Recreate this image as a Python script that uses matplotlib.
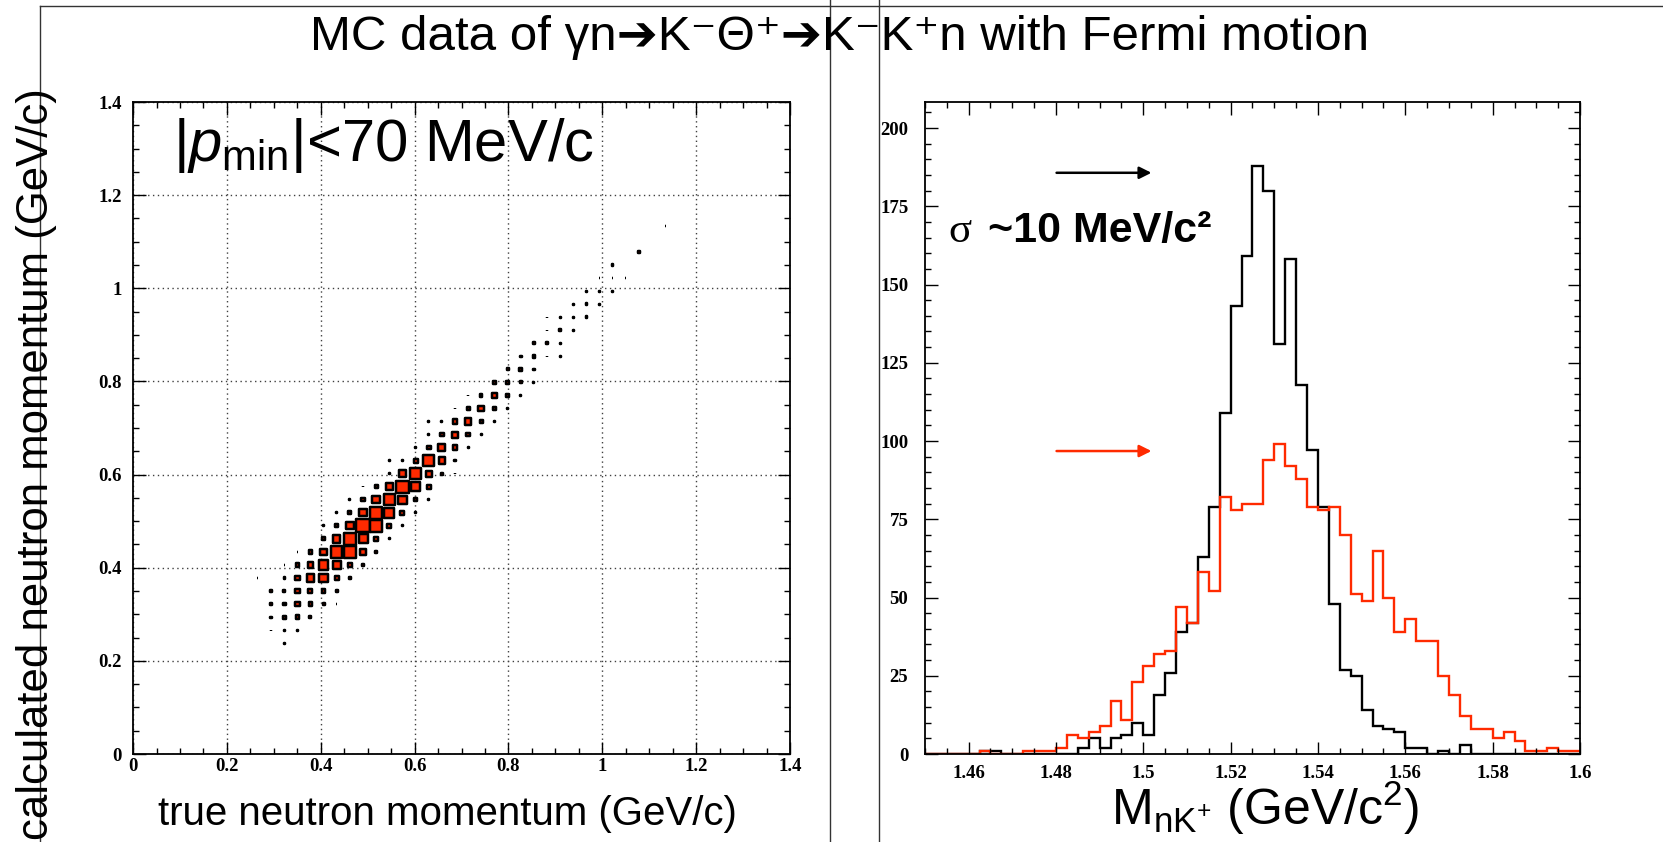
import numpy as np
import matplotlib
matplotlib.use("Agg")
import matplotlib.pyplot as plt
from matplotlib.patches import Rectangle
from matplotlib.collections import PatchCollection
from matplotlib.lines import Line2D
from matplotlib.ticker import MultipleLocator, FormatStrFormatter

plt.rcParams["mathtext.fontset"] = "custom"
plt.rcParams["mathtext.rm"] = "Liberation Sans"
plt.rcParams["mathtext.it"] = "Liberation Sans:italic"
plt.rcParams["mathtext.bf"] = "Liberation Sans:bold"

SANS = ["Liberation Sans", "DejaVu Sans"]
RED = "#ff2a00"

# ---- left panel: 2D box histogram (50 x 50 bins, 0..1.4 GeV/c) ----
p_edges = np.linspace(0.0, 1.4, 51)
cell_ix = [11,
           9, 10, 11, 12,
           9, 10, 11, 12, 13,
           10, 11, 12, 13, 14, 15,
           10, 11, 12, 13, 14, 15,
           9, 10, 11, 12, 13, 14, 15, 16,
           11, 12, 13, 14, 15, 16, 17,
           12, 13, 14, 15, 16, 17, 18,
           14, 15, 16, 17, 18, 19,
           14, 15, 16, 17, 18, 19, 20,
           15, 16, 17, 18, 19, 20, 21,
           16, 17, 18, 19, 20, 21, 22,
           17, 18, 19, 20, 21, 22,
           19, 20, 21, 22, 23, 24,
           19, 20, 21, 22, 23, 24,
           21, 22, 23, 24, 25,
           22, 23, 24, 25, 26,
           22, 23, 24, 25, 26, 27,
           24, 25, 26, 27, 28,
           25, 26, 27, 28, 29,
           27, 28, 29, 30,
           28, 29, 30,
           29, 30, 31, 32,
           30, 31, 32,
           31, 32, 33,
           31, 32, 33, 34,
           33, 34, 35,
           34, 35, 36,
           35, 36, 37,
           36,
           38,
           40]
cell_iy = ([8] + [9] * 4 + [10] * 5 + [11] * 6 + [12] * 6 + [13] * 8 + [14] * 7
           + [15] * 7 + [16] * 6 + [17] * 7 + [18] * 7 + [19] * 7 + [20] * 6
           + [21] * 6 + [22] * 6 + [23] * 5 + [24] * 5 + [25] * 6 + [26] * 5
           + [27] * 5 + [28] * 4 + [29] * 3 + [30] * 4 + [31] * 3 + [32] * 3
           + [33] * 4 + [34] * 3 + [35] * 3 + [36] * 3 + [37] + [38] + [40])
cell_counts = [8,
               7, 8, 8, 8,
               7, 9, 13, 14, 11,
               11, 13, 17, 14, 11, 8,
               11, 12, 18, 16, 14, 10,
               8, 8, 9, 18, 24, 26, 16, 10,
               8, 14, 20, 30, 26, 16, 10,
               8, 14, 22, 34, 34, 20, 11,
               13, 24, 36, 28, 15, 9,
               8, 14, 24, 38, 34, 16, 9,
               8, 14, 24, 36, 30, 16, 8,
               8, 14, 24, 34, 26, 14, 8,
               8, 14, 22, 36, 28, 16,
               8, 22, 34, 20, 11, 7,
               8, 10, 16, 32, 22, 10,
               8, 15, 23, 18, 9,
               8, 15, 21, 15, 8,
               6, 8, 16, 21, 13, 8,
               8, 14, 20, 14, 8,
               6, 12, 18, 12, 6,
               12, 15, 11, 8,
               11, 14, 10,
               10, 12, 8, 8,
               10, 12, 9,
               8, 10, 8,
               8, 8, 8, 10,
               8, 10, 8,
               8, 8, 8,
               6, 6, 6,
               10,
               9,
               7]

# ---- right panel: M(nK+) histograms, 60 bins 1.45..1.60 ----
m_edges = np.linspace(1.45, 1.60, 61)
counts_all = [0, 0, 0, 0, 0, 1, 1, 0, 0, 0,
              0, 0, 0, 0, 2, 5, 2, 5, 6, 10,
              6, 19, 26, 39, 42, 63, 79, 109, 143, 159,
              188, 180, 131, 158, 118, 97, 79, 48, 27, 25,
              14, 9, 8, 7, 2, 2, 0, 1, 0, 3,
              0, 0, 0, 0, 0, 0, 0, 0, 0, 0]
counts_fermi = [0, 0, 0, 0, 0, 1, 0, 0, 0, 1,
                1, 1, 2, 6, 5, 7, 9, 17, 11, 23,
                28, 32, 33, 47, 42, 58, 52, 82, 78, 80,
                80, 94, 99, 92, 88, 79, 78, 79, 70, 51,
                49, 65, 50, 39, 43, 36, 36, 25, 19, 12,
                8, 8, 5, 7, 4, 1, 1, 2, 1, 1]

fig = plt.figure(figsize=(16.63, 8.42), dpi=100)
ax1 = fig.add_axes([0.0800, 0.1045, 0.3951, 0.7743])
ax2 = fig.add_axes([0.5562, 0.1045, 0.3939, 0.7743])

# boxes (side proportional to content, like ROOT "box")
centres = 0.5 * (p_edges[:-1] + p_edges[1:])
width = p_edges[1] - p_edges[0]
edge_px = 2.5
px_per_unit = 0.3951 * 1663 / 1.4
boxes = []
for ix, iy, n in zip(cell_ix, cell_iy, cell_counts):
    side = max(n / 32 * width - edge_px / px_per_unit, 0.0015)
    boxes.append(Rectangle((centres[ix] - side / 2, centres[iy] - side / 2), side, side))
ax1.add_collection(PatchCollection(boxes, facecolor=RED, edgecolor="black",
                                   linewidth=edge_px * 0.72, zorder=3))
ax1.set_xlim(0, 1.4)
ax1.set_ylim(0, 1.4)
ax1.xaxis.set_major_locator(MultipleLocator(0.2))
ax1.yaxis.set_major_locator(MultipleLocator(0.2))
ax1.xaxis.set_minor_locator(MultipleLocator(0.05))
ax1.yaxis.set_minor_locator(MultipleLocator(0.05))
ax1.grid(True, which="major", color="0.25", linestyle=(0, (1, 2.5)), linewidth=1.0)
ax1.text(0.085, 1.273, r"$|p_{\rm min}|$<70 MeV/c", fontsize=43, family=SANS)

# histograms
ax2.stairs(counts_all, m_edges, color="black", linewidth=1.7, baseline=None)
ax2.stairs(counts_fermi, m_edges, color=RED, linewidth=1.7, baseline=None)
ax2.set_xlim(1.45, 1.60)
ax2.set_ylim(0, 208.3)
ax2.xaxis.set_major_locator(MultipleLocator(0.02))
ax2.xaxis.set_minor_locator(MultipleLocator(0.005))
ax2.yaxis.set_major_locator(MultipleLocator(25))
ax2.yaxis.set_minor_locator(MultipleLocator(5))
ax2.annotate("", xy=(1.5025, 185.7), xytext=(1.4795, 185.7),
             arrowprops=dict(arrowstyle="-|>", color="black", lw=1.8, mutation_scale=18))
ax2.annotate("", xy=(1.5025, 96.8), xytext=(1.4795, 96.8),
             arrowprops=dict(arrowstyle="-|>", color=RED, lw=1.8, mutation_scale=18))
ax2.text(1.4553, 163.6, "σ", fontsize=31, family="Liberation Serif")
ax2.text(1.4645, 163.6, "~10 MeV/c²", fontsize=31, family=SANS, fontweight="bold")

for ax in (ax1, ax2):
    ax.xaxis.set_major_formatter(FormatStrFormatter("%g"))
    ax.yaxis.set_major_formatter(FormatStrFormatter("%g"))
    ax.tick_params(which="both", direction="in", top=True, right=True, width=1.0)
    ax.tick_params(which="major", length=9)
    ax.tick_params(which="minor", length=4.5)
    for sp in ax.spines.values():
        sp.set_linewidth(1.3)
    for lab in ax.get_xticklabels() + ax.get_yticklabels():
        lab.set_fontfamily("Liberation Serif")
        lab.set_fontweight("bold")
        lab.set_fontsize(13.5)
ax1.tick_params(axis="x", pad=3)
ax1.tick_params(axis="y", pad=8)
ax2.tick_params(axis="x", pad=8)
ax2.tick_params(axis="y", pad=12)

# titles and axis labels
fig.text(0.505, 0.956, "MC data of γn➔K⁻Θ⁺➔K⁻K⁺n with Fermi motion",
         ha="center", va="center", fontsize=35.5, family=SANS)
fig.text(0.0222, 0.449, "calculated neutron momentum (GeV/c)", rotation=90,
         ha="center", va="center", fontsize=31.5, family=SANS)
fig.text(0.2688, 0.02, "true neutron momentum (GeV/c)", ha="center",
         va="baseline", fontsize=29, family=SANS)
fig.text(0.7607, 0.02, r"M$_{\rm nK^{+}}$ (GeV/c$^{2}$)", ha="center",
         va="baseline", fontsize=36, family=SANS)

# page frame lines
for xs, ys in [([0.024, 1.0], [0.993, 0.993]), ([0.024, 0.024], [0.0, 0.993]),
               ([0.4991, 0.4991], [0.0, 1.0]), ([0.5286, 0.5286], [0.0, 1.0])]:
    fig.add_artist(Line2D(xs, ys, color="0.2", linewidth=1.0))

fig.savefig("out.png", dpi=100)
